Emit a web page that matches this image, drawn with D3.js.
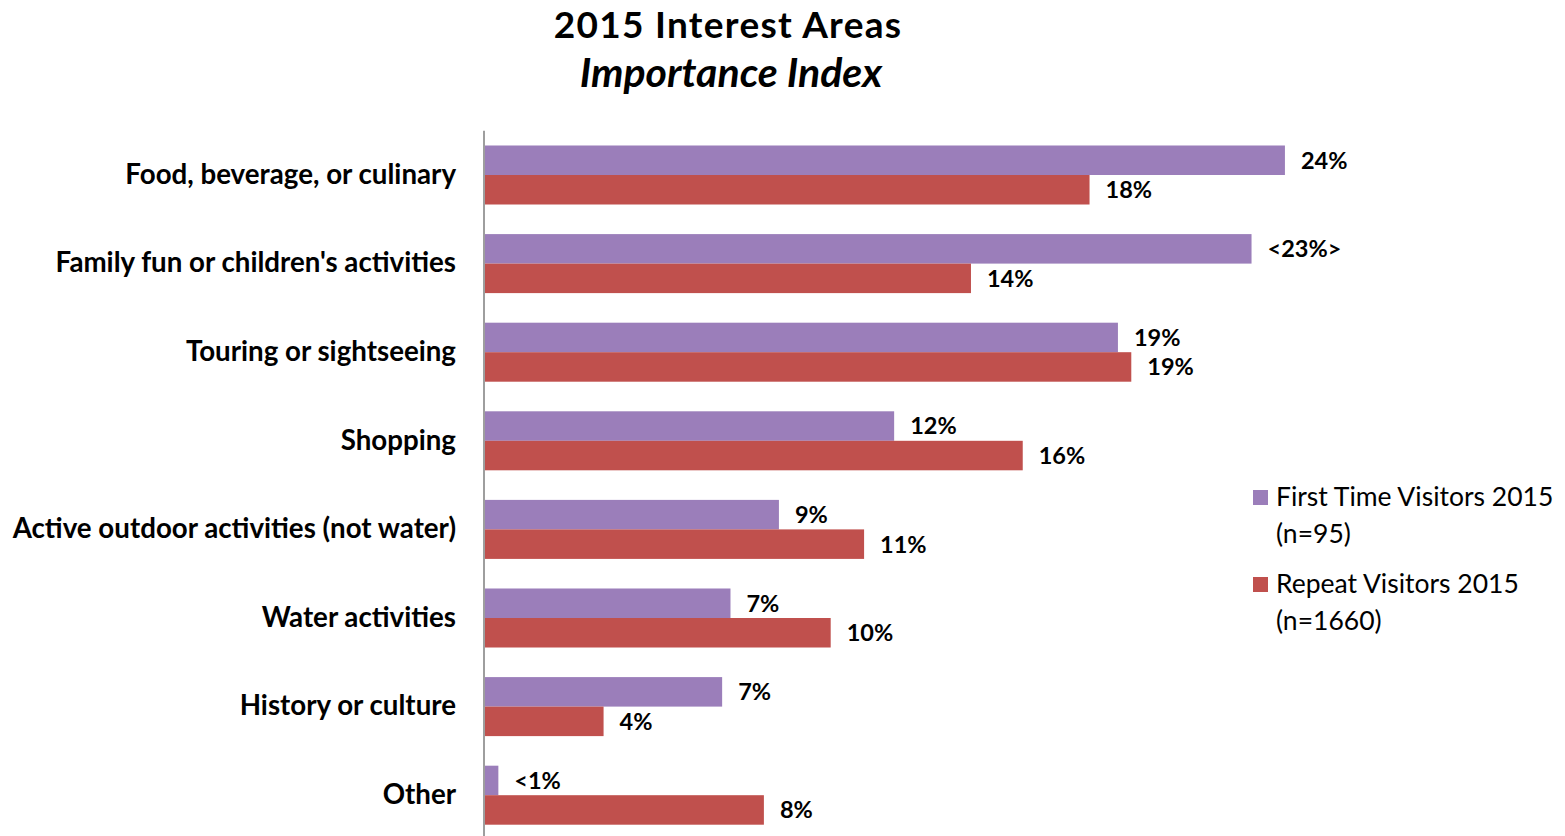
<!DOCTYPE html>
<html>
<head>
<meta charset="utf-8">
<script src="https://cdn.jsdelivr.net/npm/d3@7/dist/d3.min.js"></script>
<style>
  html, body { margin: 0; padding: 0; background: #fff; }
  svg { display: block; font-family: Lato, "Open Sans", sans-serif; }
</style>
</head>
<body>
<svg id="chart" width="1565" height="836"></svg>
<script>
const categories = [
  "Food, beverage, or culinary",
  "Family fun or children's activities",
  "Touring or sightseeing",
  "Shopping",
  "Active outdoor activities (not water)",
  "Water activities",
  "History or culture",
  "Other"
];
const firstTimeValues = [23.95, 22.95, 18.95, 12.25, 8.8, 7.35, 7.1, 0.4];
const repeatValues    = [18.1, 14.55, 19.35, 16.1, 11.35, 10.35, 3.55, 8.35];
const firstTimeLabels = ["24%", "<23%>", "19%", "12%", "9%", "7%", "7%", "<1%"];
const repeatLabels    = ["18%", "14%", "19%", "16%", "11%", "10%", "4%", "8%"];
const seriesNames = [["First Time Visitors 2015", "(n=95)"], ["Repeat Visitors 2015", "(n=1660)"]];
const titleLines = ["2015 Interest Areas", "Importance Index"];

const colors = ["#9B7EBA", "#C0504D"];

const svg = d3.select("#chart");

const x = d3.scaleLinear().domain([0, 30]).range([485, 485 + 30 * 33.4]);
const y = d3.scaleBand().domain(categories).range([130.7, 839.5])
  .paddingInner(0.334).paddingOuter(0.167);
const ySub = d3.scaleBand().domain([0, 1]).range([0, y.bandwidth()]).padding(0);

const data = categories.map((c, i) => ({
  cat: c,
  vals: [
    { s: 0, v: firstTimeValues[i], label: firstTimeLabels[i] },
    { s: 1, v: repeatValues[i], label: repeatLabels[i] }
  ]
}));

// Title
svg.append("text")
  .attr("x", 728).attr("y", 37.5)
  .attr("text-anchor", "middle")
  .attr("font-size", 37).attr("font-weight", "bold").attr("fill", "#000")
  .attr("letter-spacing", 1.3)
  .text(titleLines[0]);
svg.append("text")
  .attr("x", 731).attr("y", 87)
  .attr("text-anchor", "middle")
  .attr("font-size", 41).attr("font-weight", "bold").attr("font-style", "italic").attr("fill", "#000")
  .text(titleLines[1]);

// Bars
const groups = svg.append("g").selectAll("g").data(data).join("g")
  .attr("transform", d => `translate(0,${y(d.cat)})`);

groups.selectAll("rect").data(d => d.vals).join("rect")
  .attr("x", x(0))
  .attr("y", d => ySub(d.s))
  .attr("width", d => x(d.v) - x(0))
  .attr("height", ySub.bandwidth())
  .attr("fill", d => colors[d.s]);

groups.selectAll("text.val").data(d => d.vals).join("text")
  .attr("class", "val")
  .attr("x", d => x(d.v) + 16)
  .attr("y", d => ySub(d.s) + ySub.bandwidth() / 2)
  .attr("dy", "0.36em")
  .attr("font-size", 23.5).attr("font-weight", "bold").attr("fill", "#000")
  .text(d => d.label);

// Axis (category)
const yAxis = d3.axisLeft(y).tickSize(0).tickPadding(28);
const ax = svg.append("g").attr("transform", `translate(484,0)`).call(yAxis);
ax.select(".domain").attr("stroke", "#868686").attr("stroke-width", 1.6)
  .attr("d", `M0,${y.range()[0]}V${y.range()[1]}`);
ax.selectAll(".tick text")
  .attr("font-family", "Lato, sans-serif")
  .attr("font-size", 27.7).attr("font-weight", "bold").attr("fill", "#000");

// Legend
const legend = svg.append("g");
const legendY = [490, 577];
seriesNames.forEach((lines, i) => {
  legend.append("rect")
    .attr("x", 1253).attr("y", legendY[i]).attr("width", 15).attr("height", 15)
    .attr("fill", colors[i]);
  lines.forEach((ln, j) => {
    legend.append("text")
      .attr("x", 1276).attr("y", legendY[i] + 16 + j * 37)
      .attr("font-size", 26.5).attr("fill", "#000")
      .text(ln);
  });
});
</script>
</body>
</html>
